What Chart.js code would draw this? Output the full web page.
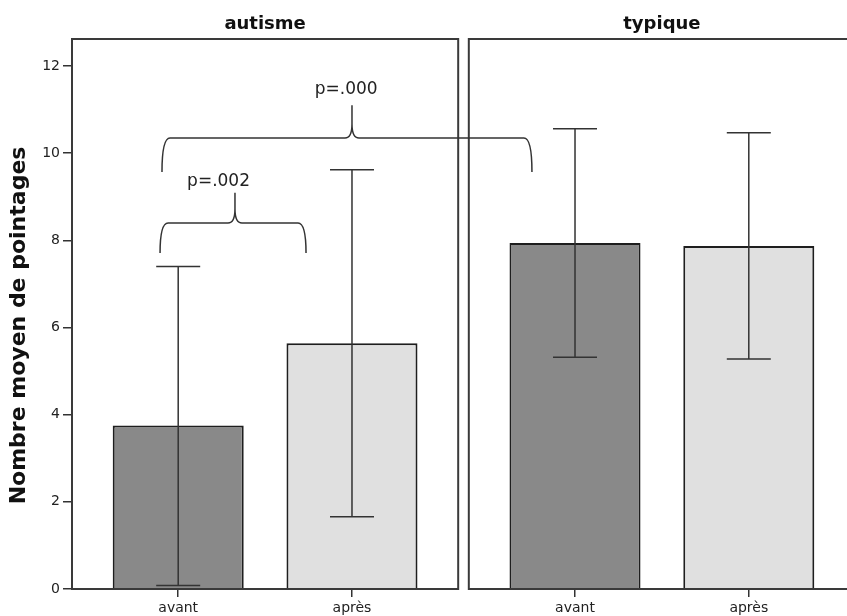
<!DOCTYPE html>
<html>
<head>
<meta charset="utf-8">
<script src="https://cdn.jsdelivr.net/npm/chart.js@4"></script>
<style>
  html, body { margin: 0; padding: 0; background: #fff; overflow: hidden; }
</style>
</head>
<body>
<canvas id="chart" width="860" height="616"></canvas>
<script>
// Values
const groups = ['autisme', 'typique'];
const phases = ['avant', 'après'];
const avantMeans = [3.75, 7.94];
const apresMeans = [5.64, 7.87];
const avantLow = [0.08, 5.32];
const avantHigh = [7.40, 10.56];
const apresLow = [1.66, 5.28];
const apresHigh = [9.62, 10.47];

// Significance braces (x in panel units, y in axis values)
const braces = [
    { x1: 0.456, x2: 1.212, tx: 0.844, y: 8.40, yEnd: 7.71, yTip: 9.09, label: 'p=.002', lx: 0.759, ly: 9.34 },
    { x1: 0.466, x2: 2.382, tx: 1.45, y: 10.35, yEnd: 9.57, yTip: 11.10, label: 'p=.000', lx: 1.42, ly: 11.45 }
];

// Panel layout along the x axis
const PANEL = 2;
const GAP = 0.055;
const SPREAD = 0.45;
const xMax = 2 * PANEL + GAP;

function barX(g, p) {
    return g * (PANEL + GAP) + PANEL / 2 + (p === 0 ? -SPREAD : SPREAD);
}

const tickPositions = [barX(0, 0), barX(0, 1), barX(1, 0), barX(1, 1)];
const groupCenters = [PANEL / 2, PANEL + GAP + PANEL / 2];
const errors = [[avantLow, avantHigh], [apresLow, apresHigh]];

const FONT = 'DejaVu Sans';

const panelPlugin = {
    id: 'panels',
    afterDatasetsDraw(chart) {
        const { ctx, chartArea, scales: { x, y } } = chart;
        ctx.save();

        // error bars
        ctx.strokeStyle = '#333';
        ctx.lineWidth = 1.5;
        chart.data.datasets.forEach((ds, d) => {
            const meta = chart.getDatasetMeta(d);
            meta.data.forEach((bar, i) => {
                const top = y.getPixelForValue(errors[d][1][i]);
                const bot = y.getPixelForValue(errors[d][0][i]);
                ctx.beginPath();
                ctx.moveTo(bar.x, top);
                ctx.lineTo(bar.x, bot);
                ctx.moveTo(bar.x - 22, top);
                ctx.lineTo(bar.x + 22, top);
                ctx.moveTo(bar.x - 22, bot);
                ctx.lineTo(bar.x + 22, bot);
                ctx.stroke();
            });
        });

        // panel frames
        ctx.strokeStyle = '#3a3a3a';
        ctx.lineWidth = 2;
        [0, PANEL + GAP].forEach(start => {
            const l = x.getPixelForValue(start);
            const r = x.getPixelForValue(start + PANEL);
            ctx.strokeRect(l, chartArea.top, r - l, chartArea.bottom - chartArea.top);
        });

        // braces
        ctx.strokeStyle = '#333';
        ctx.lineWidth = 1.5;
        ctx.fillStyle = '#222';
        ctx.font = '17px "' + FONT + '"';
        ctx.textAlign = 'center';
        ctx.textBaseline = 'middle';
        braces.forEach(b => {
            const xl = x.getPixelForValue(b.x1);
            const xr = x.getPixelForValue(b.x2);
            const xm = x.getPixelForValue(b.tx);
            const yh = y.getPixelForValue(b.y);
            const ye = y.getPixelForValue(b.yEnd);
            const yt = y.getPixelForValue(b.yTip);
            const r = 8;
            const rt = 14;
            ctx.beginPath();
            ctx.moveTo(xl, ye);
            ctx.quadraticCurveTo(xl, yh, xl + r, yh);
            ctx.lineTo(xm - 7, yh);
            ctx.quadraticCurveTo(xm, yh, xm, yh - rt);
            ctx.lineTo(xm, yt);
            ctx.moveTo(xm, yh - rt);
            ctx.quadraticCurveTo(xm, yh, xm + 7, yh);
            ctx.lineTo(xr - r, yh);
            ctx.quadraticCurveTo(xr, yh, xr, ye);
            ctx.stroke();
            ctx.fillText(b.label, x.getPixelForValue(b.lx), y.getPixelForValue(b.ly));
        });

        ctx.restore();
    }
};

new Chart(document.getElementById('chart'), {
    type: 'bar',
    data: {
        datasets: [
            {
                label: 'avant',
                data: groups.map((g, i) => ({ x: barX(i, 0), y: avantMeans[i] })),
                backgroundColor: '#898989',
                borderColor: '#1e1e1e',
                borderWidth: 2,
                grouped: false
            },
            {
                label: 'après',
                data: groups.map((g, i) => ({ x: barX(i, 1), y: apresMeans[i] })),
                backgroundColor: '#e0e0e0',
                borderColor: '#1e1e1e',
                borderWidth: 2,
                grouped: false
            }
        ]
    },
    options: {
        responsive: false,
        animation: false,
        categoryPercentage: 1,
        barPercentage: 0.754,
        layout: { padding: { left: 0, top: 0, right: 5, bottom: 0 } },
        plugins: {
            legend: { display: false },
            tooltip: { enabled: false }
        },
        scales: {
            x: {
                type: 'linear',
                position: 'bottom',
                min: 0,
                max: xMax,
                offset: false,
                afterBuildTicks: scale => {
                    scale.ticks = tickPositions.map(v => ({ value: v }));
                },
                afterFit: scale => { scale.height = 27; },
                ticks: {
                    autoSkip: false,
                    maxRotation: 0,
                    padding: 3,
                    color: '#222',
                    font: { family: FONT, size: 14 },
                    callback: (value, index) => phases[index % 2]
                },
                grid: {
                    drawOnChartArea: false,
                    offset: false,
                    tickLength: 8,
                    color: '#333',
                    lineWidth: 1.5
                },
                border: { display: false }
            },
            x2: {
                type: 'linear',
                axis: 'x',
                position: 'top',
                min: 0,
                max: xMax,
                offset: false,
                afterBuildTicks: scale => {
                    scale.ticks = groupCenters.map(v => ({ value: v }));
                },
                afterFit: scale => { scale.height = 39; },
                ticks: {
                    autoSkip: false,
                    maxRotation: 0,
                    padding: 4,
                    color: '#111',
                    font: { family: FONT, size: 18, weight: 'bold' },
                    callback: (value, index) => groups[index]
                },
                grid: { display: false, drawTicks: false, tickLength: 0 },
                border: { display: false }
            },
            y: {
                min: 0,
                max: 12.62,
                afterFit: scale => { scale.width = 72; },
                ticks: {
                    stepSize: 2,
                    includeBounds: false,
                    padding: 3,
                    color: '#222',
                    font: { family: FONT, size: 14 }
                },
                grid: {
                    drawOnChartArea: false,
                    tickLength: 9,
                    color: '#333',
                    lineWidth: 1.5
                },
                border: { display: false },
                title: {
                    display: true,
                    // trailing spaces nudge the centred title down to where the original sits
                    text: 'Nombre moyen de pointages   ',
                    color: '#111',
                    padding: { top: 6, bottom: 0 },
                    font: { family: FONT, size: 22, weight: 'bold' }
                }
            }
        }
    },
    plugins: [panelPlugin]
});
</script>
</body>
</html>
